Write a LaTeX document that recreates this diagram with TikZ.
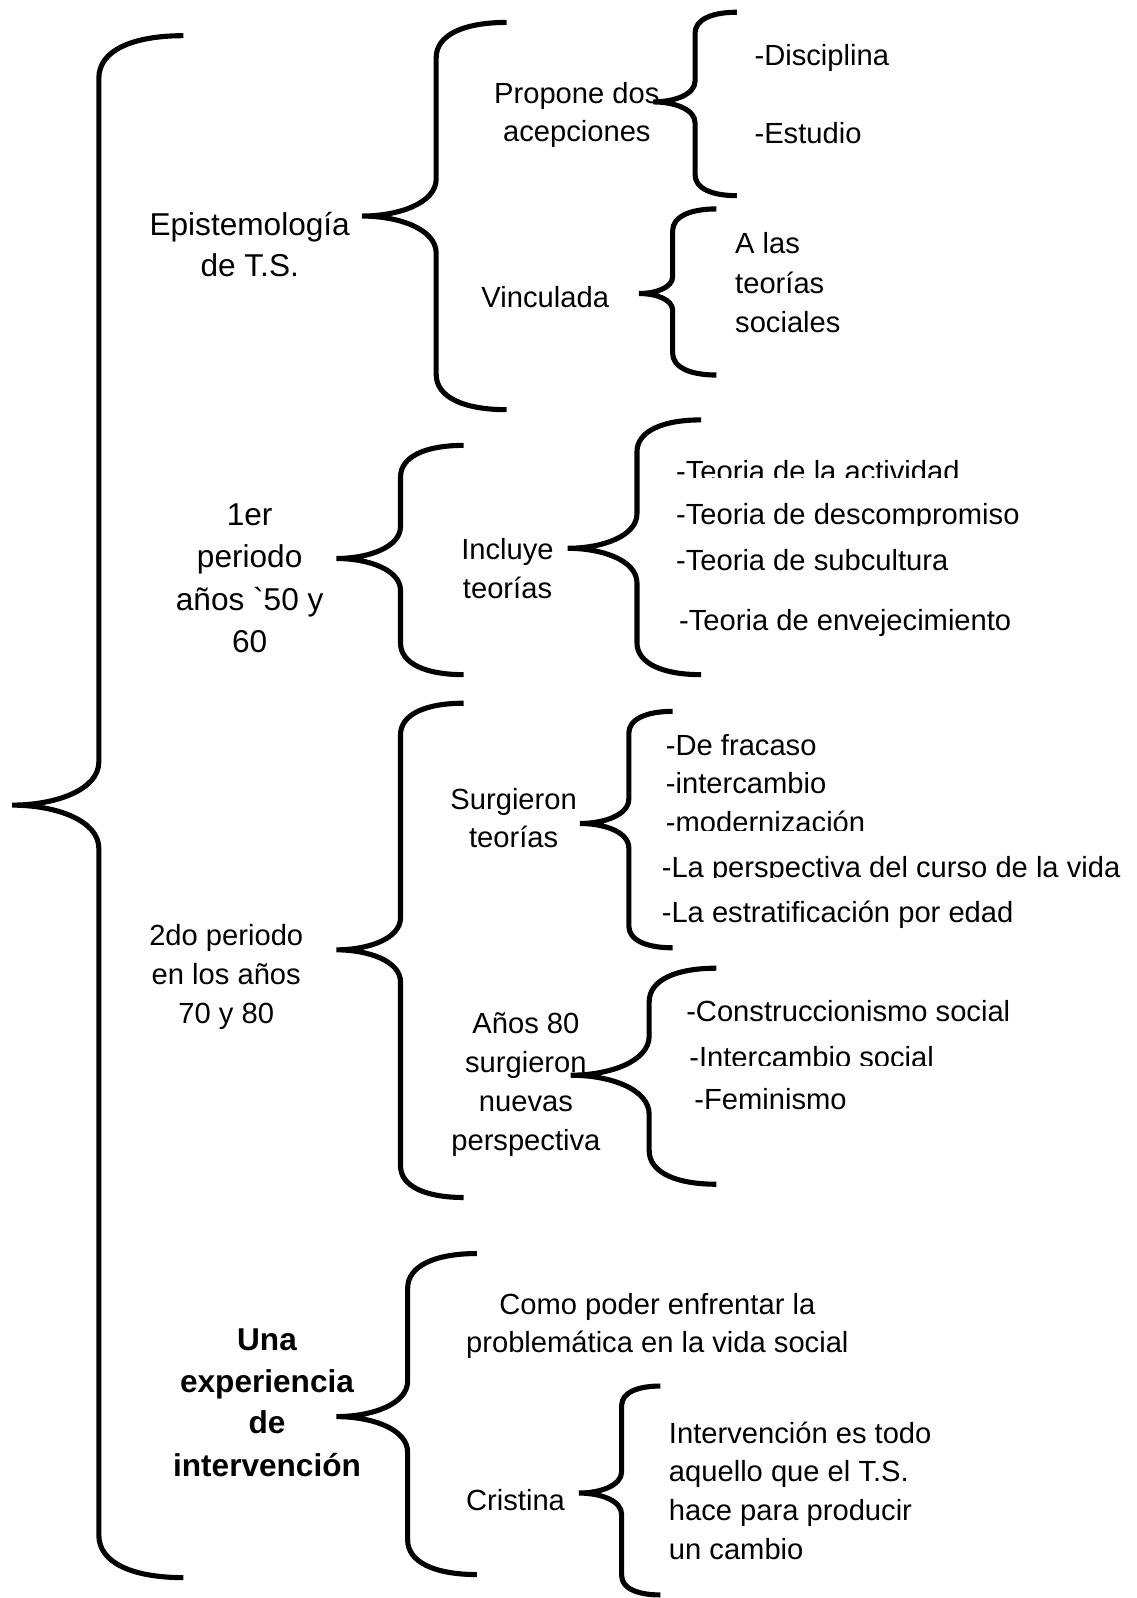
\documentclass[tikz,border=0pt]{standalone}
\usepackage{fontspec}
\setmainfont{Liberation Sans}
\newfontfamily\gravefont[Ligatures=ResetAll]{Liberation Sans}
\newcommand\cbrace[6]{% xe, yt, xv, xt, ym, yb
  \pgfmathsetmacro\bw{#1-#3}
  \pgfmathsetmacro\bh{min(0.5*\bw,42)}
  \pgfmathsetmacro\bm{0.5*(#3-#4)}
  \draw[bracestroke] (#1,#2) .. controls ({#3+0.4*\bw},#2) and (#3,{#2+0.35*\bh}) .. (#3,{#2+\bh})
    -- (#3,{#5-\bm}) .. controls (#3,{#5-0.35*\bm}) and ({#4+0.5*(#3-#4)},#5) .. (#4,#5)
    .. controls ({#4+0.5*(#3-#4)},#5) and (#3,{#5+0.35*\bm}) .. (#3,{#5+\bm})
    -- (#3,{#6-\bh}) .. controls (#3,{#6-0.35*\bh}) and ({#3+0.4*\bw},#6) .. (#1,#6);
}
\tikzset{
  bracestroke/.style={line width=2.5pt},
  lblc/.style={anchor=base, inner sep=0pt, font=\fontsize{14.3}{17}\selectfont},
  lbll/.style={lblc, anchor=base west},
  lblbig/.style={lblc, font=\fontsize{15.5}{18}\selectfont},
  lblbold/.style={lblc, font=\fontsize{15.5}{18}\selectfont\bfseries},
}
\begin{document}
\begin{tikzpicture}[x=0.5pt, y=-0.5pt]
\useasboundingbox[fill=white] (0,0) rectangle (1115,1568);

% braces
\cbrace{180}{35}{97}{12}{790}{1548}
\cbrace{497}{22}{428}{355}{212}{402}
\cbrace{723}{12}{682}{641}{100}{192}
\cbrace{703}{205}{660}{627}{288}{368}
\cbrace{455}{437}{393}{330}{548}{662}
\cbrace{688}{412}{625}{557}{538}{662}
\cbrace{455}{690}{393}{330}{932}{1175}
\cbrace{660}{698}{617}{569}{808}{930}
\cbrace{703}{950}{637}{560}{1055}{1162}
\cbrace{468}{1230}{400}{330}{1390}{1545}
\cbrace{648}{1360}{610}{568}{1465}{1565}

% Epistemologia
\node[lblbig] (ep1) at (245,231) {Epistemología};
\node[lblbig] (ep2) at (245,271) {de T.S.};
\node[lblc] (pr1) at (566,102) {Propone dos};
\node[lblc] (pr2) at (566,139) {acepciones};
\node[lbll] (dis) at (740,64) {-Disciplina};
\node[lbll] (est) at (740,141) {-Estudio};
\node[lblc] (vin) at (535,302) {Vinculada};
\node[lbll] (al1) at (721,249) {A las};
\node[lbll] (al2) at (721,288) {teorías};
\node[lbll] (al3) at (721,326) {sociales};

% 1er periodo
\node[lblbig] (p11) at (245,516) {1er};
\node[lblbig] (p12) at (245,557) {periodo};
\node[lblbig] (p13) at (245,599) {años {\gravefont\char96}50 y};
\node[lblbig] (p14) at (245,640) {60};
\node[lblc] (inc1) at (498,549) {Incluye};
\node[lblc] (inc2) at (498,587) {teorías};
\begin{scope}
  \clip (600,430) rectangle (1115,469);
  \node[lbll] (te1) at (663,472) {-Teoria de la actividad};
\end{scope}
\begin{scope}
  \clip (600,480) rectangle (1115,516);
  \node[lbll] (te2) at (663,515) {-Teoria de descompromiso};
\end{scope}
\node[lbll] (te3) at (663,560) {-Teoria de subcultura};
\node[lbll] (te4) at (666,619) {-Teoria de envejecimiento};

% 2do periodo
\node[lblc] (p21) at (222,928) {2do periodo};
\node[lblc] (p22) at (222,966) {en los años};
\node[lblc] (p23) at (222,1004) {70 y 80};
\node[lblc] (su1) at (504,794) {Surgieron};
\node[lblc] (su2) at (504,832) {teorías};
\node[lbll] (s1) at (653,741) {-De fracaso};
\node[lbll] (s2) at (653,779) {-intercambio};
\begin{scope}
  \clip (600,785) rectangle (1115,815);
  \node[lbll] (s3) at (653,817) {-modernización};
\end{scope}
\begin{scope}
  \clip (600,828) rectangle (1115,861);
  \node[lbll] (s4) at (649,861) {-La perspectiva del curso de la vida};
\end{scope}
\node[lbll] (s5) at (649,905) {-La estratificación por edad};
\node[lblc] (a1) at (516,1014) {Años 80};
\node[lblc] (a2) at (516,1052) {surgieron};
\node[lblc] (a3) at (516,1091) {nuevas};
\node[lblc] (a4) at (516,1129) {perspectiva};
\node[lbll] (n1) at (673,1002) {-Construccionismo social};
\begin{scope}
  \clip (600,1015) rectangle (1115,1045);
  \node[lbll] (n2) at (676,1047) {-Intercambio social};
\end{scope}
\node[lbll] (n3) at (681,1089) {-Feminismo};

% Una experiencia
\node[lblbold] (u1) at (262,1325) {Una};
\node[lblbold] (u2) at (262,1366) {experiencia};
\node[lblbold] (u3) at (262,1407) {de};
\node[lblbold] (u4) at (262,1449) {intervención};
\node[lblc] (c1) at (645,1290) {Como poder enfrentar la};
\node[lblc] (c2) at (645,1327) {problemática en la vida social};
\node[lbll] (cr) at (457,1482) {Cristina};
\node[lbll] (iv1) at (656,1416) {Intervención es todo};
\node[lbll] (iv2) at (656,1454) {aquello que el T.S.};
\node[lbll] (iv3) at (656,1492) {hace para producir};
\node[lbll] (iv4) at (656,1530) {un cambio};
\end{tikzpicture}
\end{document}
